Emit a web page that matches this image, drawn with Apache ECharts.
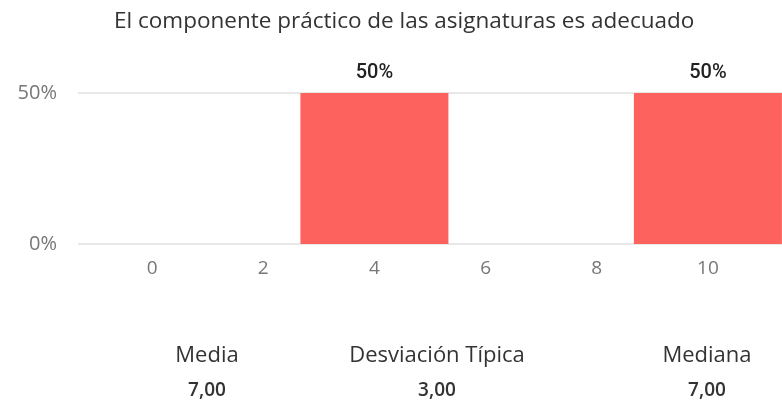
<!DOCTYPE html>
<html>
<head>
<meta charset="utf-8">
<script src="https://cdn.jsdelivr.net/npm/echarts@6/dist/echarts.min.js"></script>
<style>
  html, body { margin: 0; padding: 0; background: #fff; }
  #chart { width: 782px; height: 406px; }
</style>
</head>
<body>
<div id="chart"></div>
<script>
const title = 'El componente práctico de las asignaturas es adecuado'
const xTicks = [0, 2, 4, 6, 8, 10]
const barScores = [4, 10]
const barShares = [0.5, 0.5]
const yTicks = [0, 0.5]
const statNames = ['Media', 'Desviación Típica', 'Mediana']
const statValues = ['7,00', '3,00', '7,00']
const statCenters = [207, 437, 707]

const chart = echarts.init(document.getElementById('chart'))

const font = '"Open Sans", sans-serif'
const pct = (v) => `${Math.round(v * 100)}%`

const statTexts = []
statNames.forEach((name, i) => {
  statTexts.push({
    type: 'text',
    x: statCenters[i],
    y: 356,
    style: { text: name, font: `22px ${font}`, fill: '#333', align: 'center', verticalAlign: 'middle' },
  })
  statTexts.push({
    type: 'text',
    x: statCenters[i],
    y: 391,
    style: { text: statValues[i], font: `600 19px ${font}`, fill: '#333', align: 'center', verticalAlign: 'middle' },
  })
})

chart.setOption({
  backgroundColor: '#fff',
  animation: false,
  title: {
    text: title,
    left: 109,
    top: 5,
    textStyle: { fontFamily: font, fontSize: 22.5, fontWeight: 'normal', color: '#333' },
  },
  grid: { left: 78, right: 0, top: 93, bottom: 162 },
  xAxis: {
    type: 'value',
    min: -4 / 3,
    max: 34 / 3,
    axisLine: { show: false },
    axisTick: { show: false },
    splitLine: { show: false },
    axisLabel: {
      customValues: xTicks,
      margin: 15,
      color: '#777',
      fontFamily: font,
      fontSize: 19,
    },
  },
  yAxis: {
    type: 'value',
    min: yTicks[0],
    max: yTicks[yTicks.length - 1],
    interval: 0.5,
    axisLine: { show: false },
    axisTick: { show: false },
    axisLabel: {
      formatter: pct,
      margin: 21,
      color: '#777',
      fontFamily: font,
      fontSize: 20,
    },
    splitLine: { lineStyle: { color: '#e8e8e8', width: 2 } },
  },
  series: [
    {
      type: 'bar',
      barWidth: 148,
      clip: false,
      itemStyle: { color: '#fd625e' },
      label: {
        show: true,
        position: 'top',
        distance: 10,
        formatter: (p) => pct(p.value[1]),
        color: '#222',
        fontFamily: 'Roboto, sans-serif',
        fontWeight: 500,
        fontSize: 20,
      },
      data: barScores.map((s, i) => [s, barShares[i]]),
    },
  ],
  graphic: statTexts,
})
</script>
</body>
</html>
